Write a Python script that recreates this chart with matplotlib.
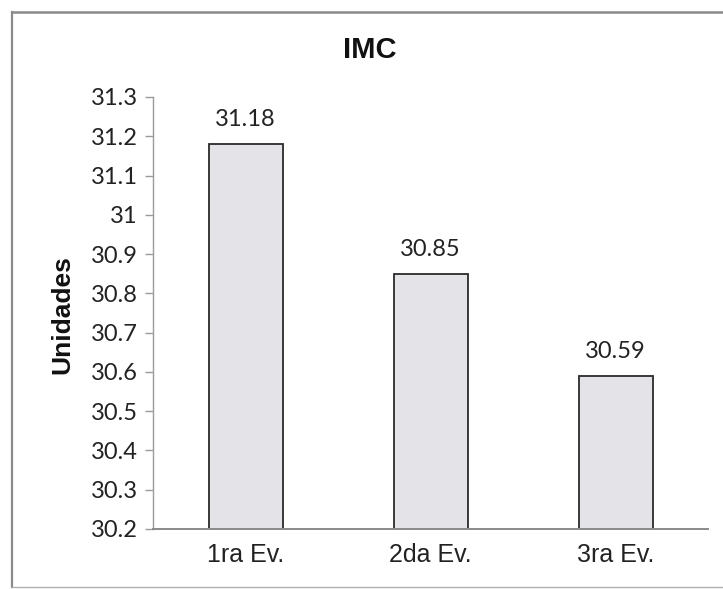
import matplotlib
matplotlib.use("Agg")
import matplotlib.pyplot as plt
from matplotlib.lines import Line2D

categories = ["1ra Ev.", "2da Ev.", "3ra Ev."]
imc_values = [31.18, 30.85, 30.59]
value_labels = ["31.18", "30.85", "30.59"]
y_ticks = [30.2, 30.3, 30.4, 30.5, 30.6, 30.7, 30.8, 30.9, 31.0, 31.1, 31.2, 31.3]
y_tick_labels = ["30.2", "30.3", "30.4", "30.5", "30.6", "30.7", "30.8", "30.9",
                 "31", "31.1", "31.2", "31.3"]

num_font = ["Lato", "DejaVu Sans"]
cat_font = ["Liberation Sans", "DejaVu Sans"]
title_font = ["Liberation Sans Narrow", "Liberation Sans", "DejaVu Sans"]

fig = plt.figure(figsize=(7.23, 5.89), dpi=100)
fig.patch.set_facecolor("white")

# Outer chart frame (left, top and bottom edges)
frame_color = "#8a8a8a"
fig.add_artist(Line2D([12 / 723, 12 / 723], [1 - 12 / 589, 1 - 587 / 589],
                      transform=fig.transFigure, color=frame_color, lw=1.6))
fig.add_artist(Line2D([12 / 723, 1.0], [1 - 12 / 589, 1 - 12 / 589],
                      transform=fig.transFigure, color=frame_color, lw=1.8))
fig.add_artist(Line2D([12 / 723, 1.0], [1 - 587 / 589, 1 - 587 / 589],
                      transform=fig.transFigure, color="#b0b0b0", lw=1.0))

ax = fig.add_axes([153 / 723, 60 / 589, (708 - 153) / 723, (529 - 97) / 589])

x = range(len(categories))
bars = ax.bar(x, imc_values, width=0.40, bottom=0,
              color="#e3e3e8", edgecolor="#2a2a2a", linewidth=1.3, zorder=2)

ax.set_xlim(-0.5, len(categories) - 0.5)
ax.set_ylim(30.2, 31.3)
ax.set_yticks(y_ticks)
ax.set_yticklabels(y_tick_labels, fontfamily=num_font, fontsize=17, color="#222222")
ax.set_xticks(list(x))
ax.set_xticklabels(categories, fontfamily=cat_font, fontsize=18, color="#222222")

for spine in ["top", "right"]:
    ax.spines[spine].set_visible(False)
ax.spines["left"].set_color("#9a9a9a")
ax.spines["left"].set_linewidth(1.0)
ax.spines["bottom"].set_color("#8a8a8a")
ax.spines["bottom"].set_linewidth(1.4)

ax.tick_params(axis="y", direction="out", length=6, width=1.0, color="#9a9a9a", pad=5)
ax.tick_params(axis="x", length=0, pad=10)

for xi, val, lab in zip(x, imc_values, value_labels):
    ax.annotate(lab, xy=(xi, val), xytext=(0, 10), textcoords="offset points",
                ha="center", va="bottom", fontfamily=num_font, fontsize=17,
                color="#222222")

fig.text(370 / 723, 1 - 50 / 589, "IMC", ha="center", va="center",
         fontfamily=title_font, fontweight="bold", fontsize=21, color="#111111")
fig.text(62 / 723, 1 - 315 / 589, "Unidades", ha="center", va="center",
         rotation=90, fontfamily=cat_font, fontweight="bold", fontsize=19,
         color="#111111")

fig.savefig("out.png", dpi=100, facecolor="white")
